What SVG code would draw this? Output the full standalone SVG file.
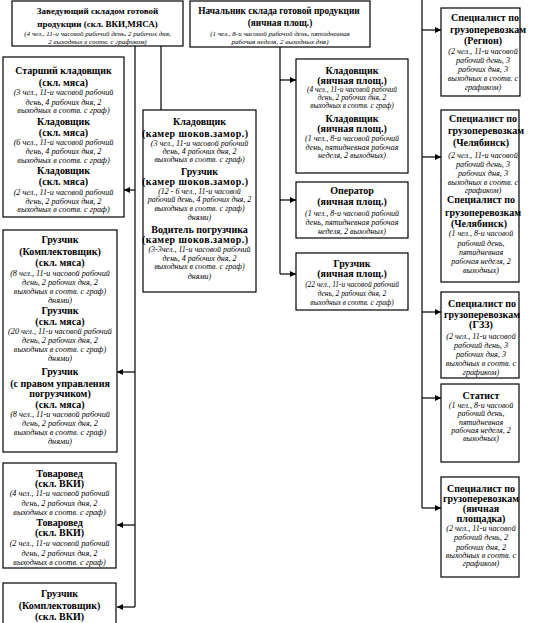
<svg xmlns="http://www.w3.org/2000/svg" width="533" height="623" viewBox="0 0 533 623">
<style>
.box{fill:#fff;stroke:#000;stroke-width:1.2}
.ln{fill:none;stroke:#000;stroke-width:1.2}
text{font-family:"Liberation Serif","Times New Roman",serif;text-anchor:middle;fill:#000}
.b{font-weight:bold;font-size:10px}
.h1{font-size:9px}
.h2{font-size:9.3px}
.i{font-style:italic;font-size:7.5px}
.t{font-size:7px}
.l{font-size:8.2px}
.m{font-size:8px}
.rm{font-size:7.4px}
.rr{font-size:8.2px}
.w{font-size:8px}
</style>
<defs>
<marker id="ah" markerWidth="6" markerHeight="6" refX="6" refY="3" orient="auto" markerUnits="userSpaceOnUse">
<path d="M0,0 L6,3 L0,6 z" fill="#000"/>
</marker>
</defs>
<g id="connectors">
<path class="ln" d="M135,46 V607"/>
<path class="ln" d="M135,190 H124" marker-end="url(#ah)"/>
<path class="ln" d="M135,372 H117" marker-end="url(#ah)"/>
<path class="ln" d="M135,525 H117" marker-end="url(#ah)"/>
<path class="ln" d="M135,607 H117" marker-end="url(#ah)"/>
<path class="ln" d="M161,46 V110"/>
<path class="ln" d="M280,47 V274"/>
<path class="ln" d="M280,80 H296" marker-end="url(#ah)"/>
<path class="ln" d="M280,200 H296" marker-end="url(#ah)"/>
<path class="ln" d="M280,274 H296" marker-end="url(#ah)"/>
<path class="ln" d="M422,0 V508"/>
<path class="ln" d="M422,30 H441" marker-end="url(#ah)"/>
<path class="ln" d="M422,157 H441" marker-end="url(#ah)"/>
<path class="ln" d="M422,312 H441" marker-end="url(#ah)"/>
<path class="ln" d="M422,398 H441" marker-end="url(#ah)"/>
<path class="ln" d="M422,508 H441" marker-end="url(#ah)"/>
</g>
<g id="head-vki">
<rect class="box" x="12" y="1" width="171" height="45"/>
<text class="b h1" x="97.5" y="13.5">Заведующий складом готовой</text>
<text class="b h1" x="97.5" y="26.5">продукции (скл. ВКИ,МЯСА)</text>
<text class="i t" x="97.5" y="35.8">(4 чел., 11-и часовой рабочий день, 2 рабочих дня,</text>
<text class="i t" x="97.5" y="43.8">2 выходных в соотв. с графиком)</text>
</g>
<g id="head-egg">
<rect class="box" x="190" y="1" width="180" height="46"/>
<text class="b h2" x="279" y="13.5">Начальник склада готовой продукции</text>
<text class="b h2" x="280" y="26">(яичная площ.)</text>
<text class="i t" x="280" y="35.8">(1 чел., 8-и часовой рабочий день, пятидневная</text>
<text class="i t" x="280" y="43.8">рабочая неделя, 2 выходных дня)</text>
</g>
<g id="meat-keepers">
<rect class="box" x="3" y="57" width="121" height="160"/>
<text class="b" x="63.5" y="73.5">Старший кладовщик</text>
<text class="b" x="63.5" y="85.5">(скл. мяса)</text>
<text class="i l" x="63.5" y="94.5">(3 чел., 11-и часовой рабочий</text>
<text class="i l" x="63.5" y="104.5">день, 4 рабочих дня, 2</text>
<text class="i l" x="63.5" y="112.5">выходных в соотв. с граф)</text>
<text class="b" x="63.5" y="124.5">Кладовщик</text>
<text class="b" x="63.5" y="135.5">(скл. мяса)</text>
<text class="i l" x="63.5" y="144.5">(6 чел., 11-и часовой рабочий</text>
<text class="i l" x="63.5" y="153.5">день, 4 рабочих дня, 2</text>
<text class="i l" x="63.5" y="162.5">выходных в соотв. с граф)</text>
<text class="b" x="63.5" y="173.5">Кладовщик</text>
<text class="b" x="63.5" y="184.5">(скл. мяса)</text>
<text class="i l" x="63.5" y="194.5">(2 чел., 11-и часовой рабочий</text>
<text class="i l" x="63.5" y="203.5">день, 2 рабочих дня, 2</text>
<text class="i l" x="63.5" y="211.5">выходных в соотв. с граф)</text>
</g>
<g id="meat-loaders">
<rect class="box" x="3" y="230" width="114" height="222"/>
<text class="b" x="60" y="242.5">Грузчик</text>
<text class="b" x="60" y="254.5">(Комплектовщик)</text>
<text class="b" x="60" y="265.5">(скл. мяса)</text>
<text class="i l" x="60" y="275.5">(8 чел., 11-и часовой рабочий</text>
<text class="i l" x="60" y="284.5">день, 2 рабочих дня, 2</text>
<text class="i l" x="60" y="293.5">выходных в соотв. с граф)</text>
<text class="i l" x="60" y="302.5">днями)</text>
<text class="b" x="60" y="313.5">Грузчик</text>
<text class="b" x="60" y="324.5">(скл. мяса)</text>
<text class="i l" x="60" y="333.5">(20 чел., 11-и часовой рабочий</text>
<text class="i l" x="60" y="342.5">день, 2 рабочих дня, 2</text>
<text class="i l" x="60" y="351.5">выходных в соотв. с граф)</text>
<text class="i l" x="60" y="360.5">днями)</text>
<text class="b" x="60" y="374.5">Грузчик</text>
<text class="b" x="60" y="386.5">(с правом управления</text>
<text class="b" x="60" y="396.5">погрузчиком)</text>
<text class="b" x="60" y="407.5">(скл. мяса)</text>
<text class="i l" x="60" y="416.5">(8 чел., 11-и часовой рабочий</text>
<text class="i l" x="60" y="425.5">день, 2 рабочих дня, 2</text>
<text class="i l" x="60" y="434.5">выходных в соотв. с граф)</text>
<text class="i l" x="60" y="443.5">днями)</text>
</g>
<g id="vki-merch">
<rect class="box" x="3" y="463" width="113" height="105"/>
<text class="b" x="59.5" y="476.5">Товаровед</text>
<text class="b" x="59.5" y="486.5">(скл. ВКИ)</text>
<text class="i l" x="59.5" y="495.5">(4 чел., 11-и часовой рабочий</text>
<text class="i l" x="59.5" y="505.5">день, 2 рабочих дня, 2</text>
<text class="i l" x="59.5" y="514.5">выходных в соотв. с граф)</text>
<text class="b" x="59.5" y="525.5">Товаровед</text>
<text class="b" x="59.5" y="535.5">(скл. ВКИ)</text>
<text class="i l" x="59.5" y="545.5">(2 чел., 11-и часовой рабочий</text>
<text class="i l" x="59.5" y="555.5">день, 2 рабочих дня, 2</text>
<text class="i l" x="59.5" y="564.5">выходных в соотв. с граф)</text>
</g>
<g id="vki-loader">
<rect class="box" x="3" y="583" width="113" height="60"/>
<text class="b" x="59.5" y="596.5">Грузчик</text>
<text class="b" x="59.5" y="608.5">(Комплектовщик)</text>
<text class="b" x="59.5" y="619.5">(скл. ВКИ)</text>
</g>
<g id="freeze">
<rect class="box" x="143" y="110" width="113" height="182"/>
<text class="b" x="199.5" y="124.5">Кладовщик</text>
<text class="b" x="195" y="136.5" textLength="106">(камер шоков.замор.)</text>
<text class="i m" x="199.5" y="145.5">(3 чел., 11-и часовой рабочий</text>
<text class="i m" x="199.5" y="153.5">день, 4 рабочих дня, 2</text>
<text class="i m" x="199.5" y="161.5">выходных в соотв. с граф)</text>
<text class="b" x="199.5" y="174.5">Грузчик</text>
<text class="b" x="195" y="184.5" textLength="106">(камер шоков.замор.)</text>
<text class="i m" x="199.5" y="193.5">(12 - 6 чел., 11-и часовой</text>
<text class="i m" x="199.5" y="201.5">рабочий день, 4 рабочих дня, 2</text>
<text class="i m" x="199.5" y="210.5">выходных в соотв. с граф)</text>
<text class="i m" x="199.5" y="219.5">днями)</text>
<text class="b" x="199.5" y="232.5">Водитель погрузчика</text>
<text class="b" x="195" y="242.5" textLength="106">(камер шоков.замор.)</text>
<text class="i m" x="199.5" y="251.5">(3-3чел., 11-и часовой рабочий</text>
<text class="i m" x="199.5" y="260.5">день, 4 рабочих дня, 2</text>
<text class="i m" x="199.5" y="268.5">выходных в соотв. с граф)</text>
<text class="i m" x="199.5" y="278.5">днями)</text>
</g>
<g id="egg-keepers">
<rect class="box" x="296" y="59" width="112" height="114"/>
<text class="b" x="352" y="73.5">Кладовщик</text>
<text class="b" x="352" y="83.5">(яичная площ.)</text>
<text class="i rm" x="352" y="91.5">(4 чел., 11-и часовой рабочий</text>
<text class="i rm" x="352" y="99.5">день, 2 рабочих дня, 2</text>
<text class="i rm" x="352" y="107.5">выходных в соотв. с граф)</text>
<text class="b" x="352" y="121.5">Кладовщик</text>
<text class="b" x="352" y="131.5">(яичная площ.)</text>
<text class="i w" x="352" y="140.8">(1 чел., 8-и часовой рабочий</text>
<text class="i w" x="352" y="149.8">день, пятидневная рабочая</text>
<text class="i w" x="352" y="157.8">неделя, 2 выходных)</text>
</g>
<g id="egg-operator">
<rect class="box" x="296" y="182" width="112" height="56"/>
<text class="b" x="352" y="193.5">Оператор</text>
<text class="b" x="352" y="204.5">(яичная площ.)</text>
<text class="i w" x="352" y="215.8">(1 чел., 8-и часовой рабочий</text>
<text class="i w" x="352" y="224.8">день, пятидневная рабочая</text>
<text class="i w" x="352" y="233.8">неделя, 2 выходных)</text>
</g>
<g id="egg-loader">
<rect class="box" x="296" y="253" width="112" height="57"/>
<text class="b" x="352" y="266.5">Грузчик</text>
<text class="b" x="352" y="276.5">(яичная площ.)</text>
<text class="i rm" x="352" y="286.5">(22 чел., 11-и часовой рабочий</text>
<text class="i rm" x="352" y="295.5">день, 2 рабочих дня, 2</text>
<text class="i rm" x="352" y="304.5">выходных в соотв. с граф)</text>
</g>
<g id="spec-region">
<rect class="box" x="441" y="8" width="79" height="88"/>
<text class="b" x="485" y="21">Специалист по</text>
<text class="b" x="488" y="33">грузоперевозкам</text>
<text class="b" x="483" y="43.5">(Регион)</text>
<text class="i rr" x="483" y="54.2">(2 чел., 11-и часовой</text>
<text class="i rr" x="483" y="62.5">рабочий день, 3</text>
<text class="i rr" x="483" y="71.5">рабочих дня, 3</text>
<text class="i rr" x="483" y="80.8">выходных в соотв. с</text>
<text class="i rr" x="483" y="89.8">графиком)</text>
</g>
<g id="spec-chel">
<rect class="box" x="441" y="110" width="78" height="172"/>
<text class="b" x="483" y="121.5">Специалист по</text>
<text class="b" x="486" y="133.5">грузоперевозкам</text>
<text class="b" x="481" y="145.5">(Челябинск)</text>
<text class="i rr" x="483" y="157.5">(2 чел., 11-и часовой</text>
<text class="i rr" x="483" y="166.5">рабочий день, 3</text>
<text class="i rr" x="483" y="175.5">рабочих дня, 3</text>
<text class="i rr" x="483" y="184.5">выходных в соотв. с</text>
<text class="i rr" x="483" y="192.5">графиком)</text>
<text class="b" x="481" y="202.5">Специалист по</text>
<text class="b" x="483" y="215.5">грузоперевозкам</text>
<text class="b" x="479" y="226.5">(Челябинск)</text>
<text class="i w" x="481" y="235.8">(1 чел., 8-и часовой</text>
<text class="i w" x="481" y="245.8">рабочий день,</text>
<text class="i w" x="481" y="254.8">пятидневная</text>
<text class="i w" x="481" y="263.8">рабочая неделя, 2</text>
<text class="i w" x="481" y="272.8">выходных)</text>
</g>
<g id="spec-gzz">
<rect class="box" x="441" y="292" width="78" height="86"/>
<text class="b" x="482" y="306.5">Специалист по</text>
<text class="b" x="482" y="317.5">грузоперевозкам</text>
<text class="b" x="481" y="327.5">(ГЗЗ)</text>
<text class="i rr" x="481" y="338.5">(2 чел., 11-и часовой</text>
<text class="i rr" x="481" y="347.5">рабочий день, 3</text>
<text class="i rr" x="481" y="356.5">рабочих дня, 3</text>
<text class="i rr" x="481" y="365.5">выходных в соотв. с</text>
<text class="i rr" x="481" y="374.5">графиком)</text>
</g>
<g id="statist">
<rect class="box" x="441" y="384" width="78" height="78"/>
<text class="b" x="481" y="398.5">Статист</text>
<text class="i w" x="481" y="407.8">(1 чел., 8-и часовой</text>
<text class="i w" x="481" y="415.8">рабочий день,</text>
<text class="i w" x="481" y="424.8">пятидневная</text>
<text class="i w" x="481" y="432.8">рабочая неделя, 2</text>
<text class="i w" x="481" y="440.8">выходных)</text>
</g>
<g id="spec-egg">
<rect class="box" x="441" y="477" width="78" height="100"/>
<text class="b" x="481" y="491.5">Специалист по</text>
<text class="b" x="481" y="501.5">грузоперевозкам</text>
<text class="b" x="481" y="511.5">(яичная</text>
<text class="b" x="481" y="521.5">площадка)</text>
<text class="i rr" x="481" y="530.5">(2 чел., 11-и часовой</text>
<text class="i rr" x="481" y="539.5">рабочий день, 2</text>
<text class="i rr" x="481" y="549.5">рабочих дня, 2</text>
<text class="i rr" x="481" y="557.5">выходных в соотв. с</text>
<text class="i rr" x="481" y="565.5">графиком)</text>
</g>
</svg>
